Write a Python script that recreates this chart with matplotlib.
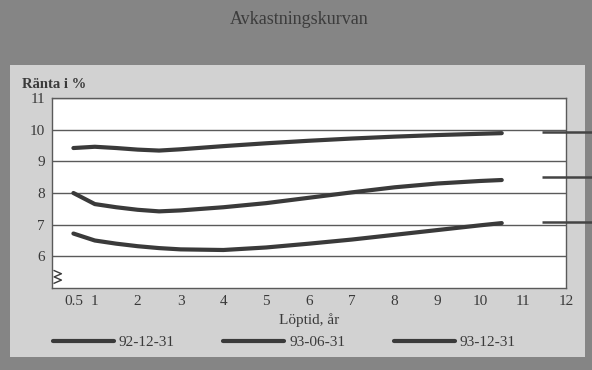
import matplotlib
matplotlib.use("Agg")
import matplotlib.pyplot as plt
from matplotlib.patches import Rectangle

# Löptid (år) och räntor (%)
maturity = [0.5, 1, 1.5, 2, 2.5, 3, 4, 5, 6, 7, 8, 9, 10, 10.5]
rate_921231 = [9.42, 9.46, 9.42, 9.37, 9.34, 9.38, 9.48, 9.57, 9.65, 9.72, 9.78, 9.83, 9.87, 9.89]
rate_930631 = [8.0, 7.65, 7.55, 7.47, 7.42, 7.45, 7.55, 7.68, 7.85, 8.02, 8.18, 8.3, 8.38, 8.41]
rate_931231 = [6.72, 6.5, 6.4, 6.32, 6.26, 6.22, 6.2, 6.28, 6.4, 6.53, 6.68, 6.83, 6.98, 7.05]
series_labels = ["92-12-31", "93-06-31", "93-12-31"]

x_ticks = [0.5, 1, 2, 3, 4, 5, 6, 7, 8, 9, 10, 11, 12]
x_ticklabels = ["0.5", "1", "2", "3", "4", "5", "6", "7", "8", "9", "10", "11", "12"]
y_ticks = [6, 7, 8, 9, 10, 11]
side_marks = [9.93, 8.5, 7.09]   # korta streck till höger om diagrammet

plt.rcParams['font.family'] = ['Liberation Serif', 'DejaVu Serif']
ink = '#3a3a3a'

fig = plt.figure(figsize=(5.92, 3.70), dpi=100)
fig.patch.set_facecolor('#858585')
# ljus inre panel
fig.patches.append(Rectangle((10 / 592, 1 - 357 / 370), 575 / 592, 292 / 370,
                             transform=fig.transFigure, facecolor='#d2d2d2',
                             edgecolor='none', zorder=-5))
fig.text(0.505, 1 - 20 / 370, 'Avkastningskurvan', ha='center', va='center',
         fontsize=13, color='#3c3c3c')

ax = fig.add_axes([52 / 592, 1 - 288 / 370, 514 / 592, 190 / 370])
ax.set_zorder(2)
ax.set_facecolor('white')

for y, lab in zip([rate_921231, rate_930631, rate_931231], series_labels):
    ax.plot(maturity, y, color=ink, lw=3, solid_capstyle='round', label=lab, zorder=3)

ax.hlines(side_marks, 11.45, 12.6, color='#444444', lw=1.8, clip_on=False, zorder=4)

ax.set_xlim(0, 12)
ax.set_ylim(5, 11)
ax.set_xticks(x_ticks)
ax.set_xticklabels(x_ticklabels)
ax.set_yticks(y_ticks)
ax.tick_params(length=0, labelsize=11, labelcolor=ink, pad=5)
ax.grid(axis='y', color='#5a5a5a', lw=1.0)
for s in ax.spines.values():
    s.set_color('#5a5a5a')
    s.set_linewidth(1.0)

# brytsymbol på y-axeln (liten sicksack)
ax.plot([0.05, 0.22, 0.05, 0.22, 0.05], [5.15, 5.25, 5.35, 5.45, 5.55],
        color=ink, lw=1.0, clip_on=False, zorder=4)

ax.set_xlabel('Löptid, år', fontsize=11, color=ink, labelpad=4)
fig.text(22 / 592, 1 - 85 / 370, 'Ränta i %', fontsize=10.5, color=ink,
         ha='left', va='center', fontweight='bold')

fig.legend(loc='center', bbox_to_anchor=(0.48, 1 - 342 / 370), ncol=3, frameon=False,
           handlelength=4, columnspacing=3.2, handletextpad=0.3,
           prop={'size': 11}, labelcolor=ink)

fig.savefig('out.png', dpi=100, facecolor=fig.get_facecolor())
